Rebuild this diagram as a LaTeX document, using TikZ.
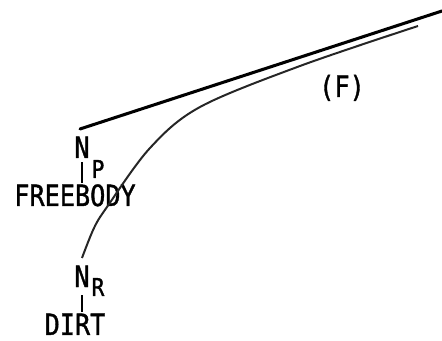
\documentclass[tikz,border=0pt]{standalone}
\usepackage{fontspec}
\newfontfamily\labelfont[FakeStretch=0.86,FakeBold=1.2]{DejaVu Sans Mono}
\usetikzlibrary{positioning, calc}

\begin{document}
\begin{tikzpicture}[
        x=0.03cm, y=-0.03cm,
        tag/.style={
            inner sep=0pt, anchor=base,
            font=\fontsize{25}{27}\selectfont\labelfont
        },
        subtag/.style={
            inner sep=0pt, anchor=base,
            font=\fontsize{21}{23}\selectfont\labelfont
        },
        tie/.style={
            line width=2.4pt, draw=black
        },
        bound/.style={
            line width=2.6pt, draw=black, line cap=round
        },
        path/.style={
            line width=1.7pt, draw=black!85
        }
    ]
        \useasboundingbox (0,0) rectangle (442,341);

        % ----------------------------------------------------
        % LEFT: normal force labels
        % ----------------------------------------------------
        \node[tag] (np) at (82,158) {N};
        \node[subtag] (psub) at (98,178) {P};
        \node[tag] (freebody) at (75,206) {FREEBODY};
        \draw[tie, shorten <=3.5pt, shorten >=1pt] (np.south) -- (np.south |- freebody.north);

        \node[tag] (nr) at (82,287) {N};
        \node[subtag] (rsub) at (98,296) {R};
        \node[tag] (dirt) at (75,335) {DIRT};
        \draw[tie, shorten <=7pt, shorten >=1.5pt] (nr.south) -- (nr.south |- dirt.north);

        % ----------------------------------------------------
        % RIGHT: boundary line and path
        % ----------------------------------------------------
        \coordinate (bstart) at (80,129);
        \coordinate (bend) at (442,11);
        \draw[bound] (bstart) -- (bend);

        \draw[path] plot[smooth, tension=0.55] coordinates {
            (82,258) (94,228) (107,207) (150,148) (200,107) (300,66) (418,26)};

        \node[tag] (flabel) at (342,97) {(F)};

    \end{tikzpicture}
\end{document}
